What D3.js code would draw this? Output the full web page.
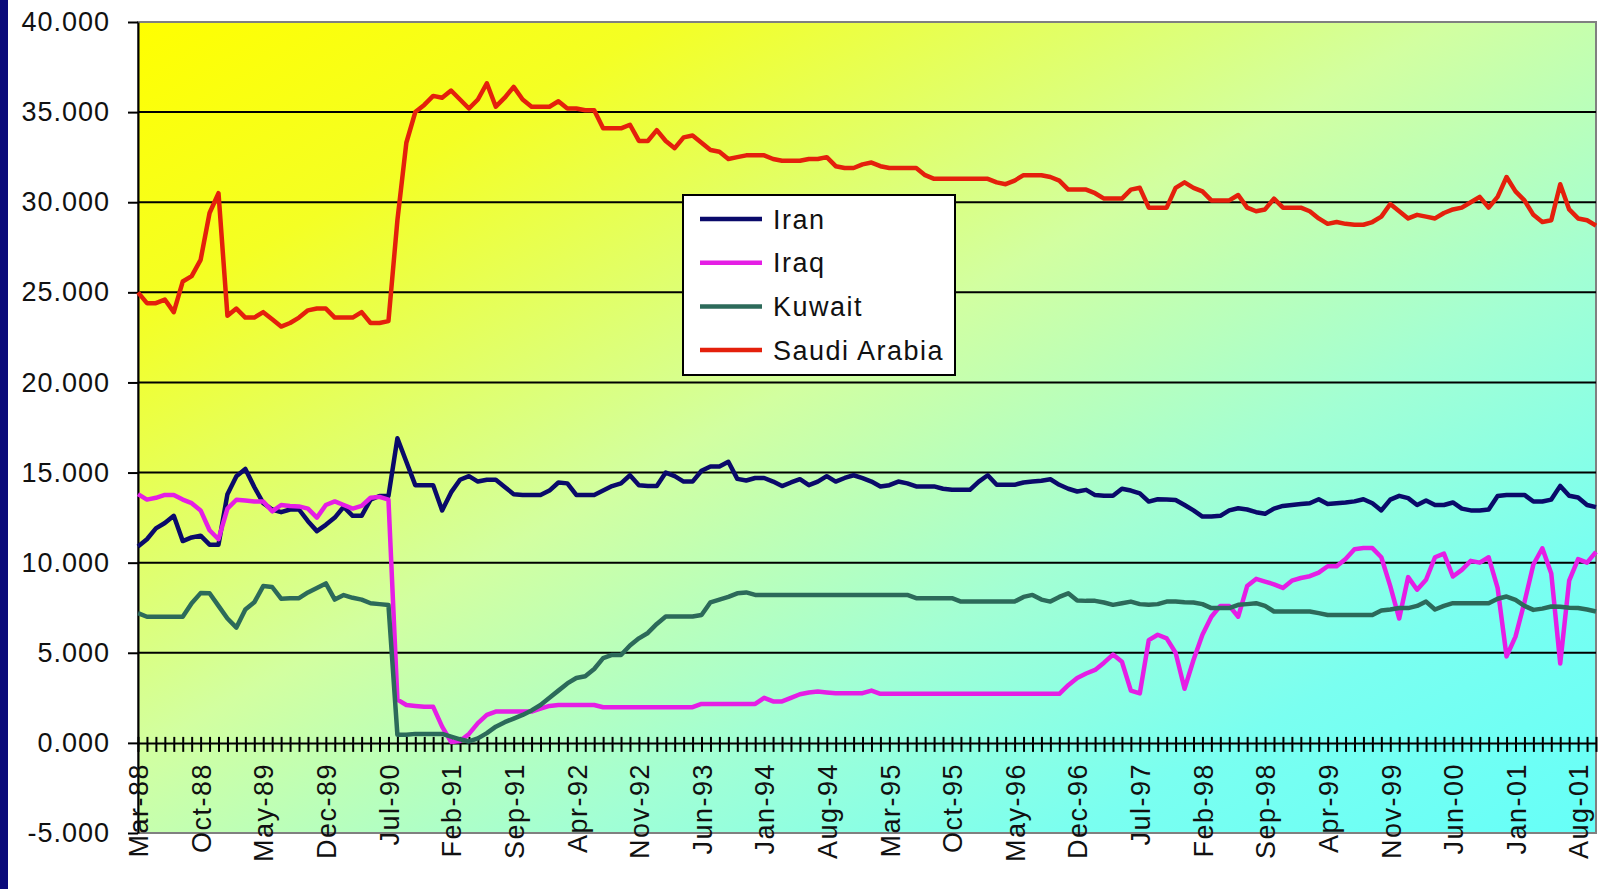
<!DOCTYPE html>
<html>
<head>
<meta charset="utf-8">
<script src="https://cdn.jsdelivr.net/npm/d3@7"></script>
<style>
  body { margin: 0; background: #fff; }
  text { font-family: "Liberation Sans", Arial, sans-serif; fill: #111; }
</style>
</head>
<body>
<div id="chart"></div>
<script>
// Datos (miles), mensual desde Mar-88 hasta Oct-01
const firstMonth = new Date(1988, 2, 1);
const lastMonth = new Date(2001, 9, 1);

const iran = [
  10.9, 11.3, 11.9, 12.2, 12.6, 11.2, 11.4, 11.5, 11.0, 11.0,
  13.8, 14.8, 15.2, 14.2, 13.3, 12.95, 12.8, 12.95, 12.95, 12.3,
  11.75, 12.1, 12.5, 13.1, 12.6, 12.6, 13.5, 13.7, 13.7, 16.9,
  15.6, 14.3, 14.3, 14.3, 12.9, 13.9, 14.6, 14.8, 14.5, 14.6,
  14.6, 14.2, 13.8, 13.76, 13.76, 13.76, 14.0, 14.45, 14.4, 13.76,
  13.76, 13.76, 14.0, 14.25, 14.4, 14.85, 14.3, 14.26, 14.26, 15.0,
  14.8, 14.5, 14.5, 15.1, 15.34, 15.34, 15.6, 14.65, 14.56, 14.7,
  14.7, 14.5, 14.25, 14.45, 14.63, 14.3, 14.5, 14.8, 14.5, 14.7,
  14.85, 14.69, 14.5, 14.23, 14.3, 14.5, 14.4, 14.23, 14.23, 14.23,
  14.1, 14.04, 14.04, 14.04, 14.5, 14.85, 14.32, 14.32, 14.32, 14.45,
  14.5, 14.55, 14.63, 14.32, 14.1, 13.95, 14.04, 13.75, 13.71, 13.71,
  14.1, 14.0, 13.85, 13.39, 13.52, 13.5, 13.48, 13.2, 12.9, 12.56,
  12.56, 12.6, 12.9, 13.02, 12.95, 12.8, 12.71, 13.0, 13.15, 13.2,
  13.25, 13.3, 13.52, 13.25, 13.3, 13.34, 13.4, 13.52, 13.3, 12.9,
  13.5, 13.71, 13.58, 13.2, 13.45, 13.2, 13.2, 13.34, 13.0, 12.9,
  12.9, 12.95, 13.7, 13.76, 13.76, 13.76, 13.39, 13.39, 13.5, 14.26,
  13.71, 13.62, 13.2, 13.08
];

const iraq = [
  13.8, 13.5, 13.6, 13.76, 13.76, 13.5, 13.3, 12.9, 11.8, 11.3,
  13.0, 13.49, 13.45, 13.4, 13.4, 12.85, 13.2, 13.15, 13.12, 13.0,
  12.5, 13.2, 13.4, 13.2, 13.0, 13.15, 13.6, 13.65, 13.5, 2.4,
  2.1, 2.05, 2.0, 2.0, 0.9, 0.05, 0.1, 0.5, 1.1, 1.55,
  1.74, 1.74, 1.74, 1.74, 1.74, 1.9, 2.05, 2.1, 2.1, 2.1,
  2.1, 2.1, 1.98, 1.98, 1.98, 1.98, 1.98, 1.98, 1.98, 1.98,
  1.98, 1.98, 1.98, 2.16, 2.16, 2.16, 2.16, 2.16, 2.16, 2.16,
  2.5, 2.3, 2.3, 2.5, 2.7, 2.8, 2.85, 2.8, 2.76, 2.76,
  2.76, 2.76, 2.9, 2.72, 2.72, 2.72, 2.72, 2.72, 2.72, 2.72,
  2.72, 2.72, 2.72, 2.72, 2.72, 2.72, 2.72, 2.72, 2.72, 2.72,
  2.72, 2.72, 2.72, 2.72, 3.2, 3.6, 3.85, 4.05, 4.45, 4.9,
  4.5, 2.9, 2.75, 5.7, 6.0, 5.8, 5.0, 3.0, 4.6, 6.0,
  7.0, 7.6, 7.6, 7.0, 8.7, 9.1, 8.95, 8.8, 8.6, 9.0,
  9.15, 9.25, 9.45, 9.8, 9.8, 10.2, 10.75, 10.81, 10.81, 10.3,
  8.7, 6.9, 9.2, 8.5, 9.05, 10.3, 10.5, 9.23, 9.6, 10.1,
  10.0, 10.3, 8.6, 4.8, 5.9, 7.8, 9.9, 10.8, 9.4, 4.4,
  9.0, 10.2, 10.0, 10.6
];

const kuwait = [
  7.2, 7.0, 7.0, 7.0, 7.0, 7.0, 7.75, 8.31, 8.3, 7.6,
  6.9, 6.4, 7.4, 7.8, 8.7, 8.65, 8.0, 8.03, 8.03, 8.35,
  8.6, 8.85, 7.95, 8.2, 8.05, 7.95, 7.75, 7.7, 7.65, 0.45,
  0.45, 0.5, 0.5, 0.5, 0.5, 0.35, 0.2, 0.08, 0.25, 0.54,
  0.9, 1.15, 1.35, 1.55, 1.8, 2.1, 2.5, 2.9, 3.3, 3.6,
  3.7, 4.1, 4.7, 4.88, 4.88, 5.4, 5.8, 6.1, 6.6, 7.01,
  7.01, 7.01, 7.01, 7.1, 7.8, 7.95, 8.1, 8.3, 8.35, 8.21,
  8.21, 8.21, 8.21, 8.21, 8.21, 8.21, 8.21, 8.21, 8.21, 8.21,
  8.21, 8.21, 8.21, 8.21, 8.21, 8.21, 8.21, 8.03, 8.03, 8.03,
  8.03, 8.03, 7.84, 7.84, 7.84, 7.84, 7.84, 7.84, 7.84, 8.1,
  8.21, 7.95, 7.84, 8.1, 8.3, 7.9, 7.88, 7.88, 7.79, 7.66,
  7.75, 7.84, 7.7, 7.66, 7.7, 7.84, 7.84, 7.8, 7.79, 7.7,
  7.48, 7.48, 7.48, 7.66, 7.7, 7.75, 7.6, 7.29, 7.29, 7.29,
  7.29, 7.29, 7.2, 7.1, 7.1, 7.1, 7.1, 7.1, 7.1, 7.35,
  7.4, 7.48, 7.48, 7.6, 7.84, 7.4, 7.6, 7.75, 7.75, 7.75,
  7.75, 7.75, 8.0, 8.12, 7.94, 7.6, 7.38, 7.45, 7.57, 7.55,
  7.5, 7.48, 7.4, 7.29
];

const saudi = [
  25.0, 24.4, 24.4, 24.6, 23.9, 25.6, 25.9, 26.8, 29.4, 30.5,
  23.7, 24.1, 23.6, 23.6, 23.9, 23.5, 23.1, 23.3, 23.6, 24.0,
  24.1, 24.1, 23.6, 23.6, 23.6, 23.9, 23.3, 23.3, 23.4, 29.0,
  33.3, 35.0, 35.4, 35.9, 35.8, 36.2, 35.7, 35.2, 35.7, 36.6,
  35.3, 35.8, 36.4, 35.7, 35.3, 35.3, 35.3, 35.6, 35.2, 35.2,
  35.1, 35.1, 34.1, 34.1, 34.1, 34.3, 33.4, 33.4, 34.0, 33.4,
  33.0, 33.6, 33.7, 33.3, 32.9, 32.8, 32.4, 32.5, 32.6, 32.6,
  32.6, 32.4, 32.3, 32.3, 32.3, 32.4, 32.4, 32.5, 32.0, 31.9,
  31.9, 32.1, 32.2, 32.0, 31.9, 31.9, 31.9, 31.9, 31.5, 31.3,
  31.3, 31.3, 31.3, 31.3, 31.3, 31.3, 31.1, 31.0, 31.2, 31.5,
  31.5, 31.5, 31.4, 31.2, 30.7, 30.7, 30.7, 30.5, 30.2, 30.2,
  30.2, 30.7, 30.8, 29.7, 29.7, 29.7, 30.8, 31.1, 30.8, 30.6,
  30.1, 30.1, 30.1, 30.4, 29.7, 29.5, 29.6, 30.2, 29.7, 29.7,
  29.7, 29.5, 29.1, 28.8, 28.9, 28.8, 28.75, 28.75, 28.9, 29.2,
  29.9, 29.5, 29.1, 29.3, 29.2, 29.1, 29.4, 29.6, 29.7, 30.0,
  30.3, 29.7, 30.3, 31.4, 30.6, 30.1, 29.3, 28.9, 29.0, 31.0,
  29.6, 29.1, 29.0, 28.7
];

const seriesNames = ["Iran", "Iraq", "Kuwait", "Saudi Arabia"];
const seriesValues = [iran, iraq, kuwait, saudi];
const seriesColors = ["#0a0a6a", "#e51ee5", "#2c6a5a", "#e4200c"];
const yTicks = [-5, 0, 5, 10, 15, 20, 25, 30, 35, 40];
const labelStep = 7; // una etiqueta cada 7 meses

// Configuración
const svgWidth = 1614;
const svgHeight = 889;
const plot = { left: 138, top: 22, right: 1596, bottom: 833 };

const fmtDate = d3.timeFormat("%b-%y");
const months = d3.timeMonth.range(firstMonth, d3.timeMonth.offset(lastMonth, 1)).map(fmtDate);
const fmtY = d3.formatLocale({ decimal: ".", thousands: ",", grouping: [3], currency: ["", ""], minus: "-" }).format(".3f");

const svg = d3.select("#chart")
  .append("svg")
  .attr("width", svgWidth)
  .attr("height", svgHeight);

// borde azul de la diapositiva
svg.append("rect")
  .attr("x", 0).attr("y", 0)
  .attr("width", 8).attr("height", svgHeight)
  .attr("fill", "#0a0a7a");

const x = d3.scalePoint()
  .domain(months)
  .range([plot.left, plot.right])
  .padding(0);

const y = d3.scaleLinear()
  .domain([-5, 40])
  .range([plot.bottom, plot.top]);

// Fondo degradado
const defs = svg.append("defs");
const grad = defs.append("linearGradient")
  .attr("id", "bg")
  .attr("x1", 0).attr("y1", 0).attr("x2", 1).attr("y2", 1);
[[0, "#ffff00"], [0.18, "#f4ff24"], [0.45, "#d2ffa0"], [0.65, "#a2ffd4"], [0.82, "#7afff0"], [1, "#66fff8"]]
  .forEach(s => grad.append("stop").attr("offset", s[0]).attr("stop-color", s[1]));

svg.append("rect")
  .attr("x", plot.left).attr("y", plot.top)
  .attr("width", plot.right - plot.left)
  .attr("height", plot.bottom - plot.top)
  .attr("fill", "url(#bg)")
  .attr("stroke", "#808080")
  .attr("stroke-width", 2);

// Líneas de cuadrícula
svg.append("g")
  .selectAll("line")
  .data(yTicks.filter(v => v > 0 && v < 40))
  .enter().append("line")
  .attr("x1", plot.left).attr("x2", plot.right)
  .attr("y1", d => y(d)).attr("y2", d => y(d))
  .attr("stroke", "#000")
  .attr("stroke-width", 2);

// Eje Y
const yAxis = svg.append("g")
  .attr("transform", `translate(${plot.left},0)`)
  .call(d3.axisLeft(y).tickValues(yTicks).tickFormat(fmtY).tickSize(10).tickSizeOuter(0).tickPadding(18));
yAxis.select(".domain").attr("stroke", "#000").attr("stroke-width", 2);
yAxis.selectAll(".tick line").attr("stroke", "#000").attr("stroke-width", 2);
yAxis.selectAll("text")
  .attr("font-size", 27)
  .attr("letter-spacing", 1)
  .attr("font-family", "Liberation Sans, Arial, sans-serif")
  .attr("fill", "#111");

// Eje X en cero: marcas mensuales
const xAxis = svg.append("g")
  .attr("transform", `translate(0,${y(0)})`)
  .call(d3.axisBottom(x).tickValues(months).tickFormat("").tickSizeOuter(0));
xAxis.select(".domain").attr("stroke", "#000").attr("stroke-width", 2);
xAxis.selectAll(".tick line")
  .attr("y1", -6).attr("y2", 9)
  .attr("stroke", "#000").attr("stroke-width", 2);

// Etiquetas del eje X
const xLabels = svg.append("g")
  .attr("transform", `translate(0,${y(0)})`)
  .call(d3.axisBottom(x).tickValues(months.filter((m, i) => i % labelStep === 0)).tickSize(0));
xLabels.select(".domain").remove();
xLabels.selectAll("text")
  .attr("transform", "rotate(-90)")
  .attr("x", -20)
  .attr("y", 0)
  .attr("dy", "0.36em")
  .style("text-anchor", "end")
  .attr("font-size", 27)
  .attr("letter-spacing", 1.5)
  .attr("font-family", "Liberation Sans, Arial, sans-serif")
  .attr("fill", "#111");

// Series
const line = d3.line()
  .x((d, i) => x(months[i]))
  .y(d => y(d));

svg.append("g")
  .selectAll("path")
  .data(seriesValues)
  .enter().append("path")
  .attr("d", d => line(d))
  .attr("fill", "none")
  .attr("stroke", (d, i) => seriesColors[i])
  .attr("stroke-width", 4.5)
  .attr("stroke-linejoin", "round");

// Leyenda
const legendBox = svg.append("g").attr("transform", "translate(683,195)");
legendBox.append("rect")
  .attr("width", 272).attr("height", 180)
  .attr("fill", "#fff")
  .attr("stroke", "#000")
  .attr("stroke-width", 2);

const legend = legendBox.selectAll(".item")
  .data(seriesNames)
  .enter().append("g")
  .attr("transform", (d, i) => `translate(0,${24 + i * 43.7})`);

legend.append("line")
  .attr("x1", 17).attr("x2", 79)
  .attr("stroke", (d, i) => seriesColors[i])
  .attr("stroke-width", 4.5);

legend.append("text")
  .attr("x", 90)
  .attr("dy", "0.36em")
  .attr("font-size", 27)
  .attr("letter-spacing", 1.5)
  .text(d => d);
</script>
</body>
</html>
